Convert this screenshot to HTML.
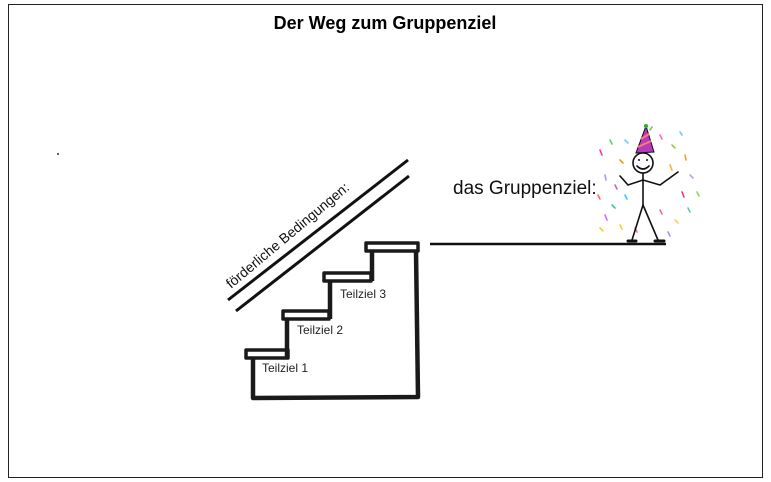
<!DOCTYPE html>
<html><head><meta charset="utf-8"><style>
html,body{margin:0;padding:0;background:#fff;}
svg{display:block;}
</style></head><body>
<svg width="771" height="482" viewBox="0 0 771 482" xmlns="http://www.w3.org/2000/svg" font-family="Liberation Sans, sans-serif">
<rect x="0" y="0" width="771" height="482" fill="#fff"/>
<rect x="8.5" y="4.5" width="754" height="473" fill="none" stroke="#222" stroke-width="1"/>
<text x="385" y="29" text-anchor="middle" font-size="18" font-weight="bold" fill="#000">Der Weg zum Gruppenziel</text>
<circle cx="58" cy="154" r="1" fill="#333"/>
<!-- diagonal lines -->
<line x1="228" y1="300" x2="408" y2="160" stroke="#111" stroke-width="3"/>
<line x1="236" y1="311" x2="409" y2="176" stroke="#111" stroke-width="3"/>
<text x="0" y="0" font-size="14" fill="#111" transform="translate(231,289) rotate(-40)">förderliche Bedingungen:</text>
<!-- stairs -->
<g fill="none" stroke="#1a1a1a" stroke-width="4.5" stroke-linejoin="round">
<polyline points="253,357 253,398 418,397 416,251"/>
<polyline points="287,357 287,319"/>
<polyline points="330,319 330,281"/>
<polyline points="372,281 372,251"/>
<rect x="246" y="350" width="42" height="8" stroke-width="3.5"/>
<rect x="283" y="311" width="46" height="8" stroke-width="3.5"/>
<rect x="324" y="273" width="47" height="8" stroke-width="3.5"/>
<rect x="366" y="243" width="52" height="8" stroke-width="3.5"/>
</g>
<text x="262" y="372" font-size="12" fill="#222">Teilziel 1</text>
<text x="297" y="334" font-size="12" fill="#222">Teilziel 2</text>
<text x="340" y="298" font-size="12" fill="#222">Teilziel 3</text>
<!-- horizontal line -->
<line x1="430" y1="244" x2="666" y2="244" stroke="#111" stroke-width="2.5"/>
<text x="453" y="194" font-size="19" fill="#111">das Gruppenziel:</text>
<!-- confetti -->
<g stroke-width="1.6" stroke-linecap="round">
<line x1="600" y1="150" x2="602" y2="155" stroke="#f39"/><line x1="610" y1="140" x2="612" y2="144" stroke="#6c6"/>
<line x1="620" y1="160" x2="623" y2="163" stroke="#f90"/><line x1="605" y1="175" x2="606" y2="180" stroke="#99f"/>
<line x1="598" y1="195" x2="600" y2="199" stroke="#f66"/><line x1="612" y1="205" x2="615" y2="208" stroke="#3c9"/>
<line x1="605" y1="215" x2="607" y2="220" stroke="#c6f"/><line x1="620" y1="225" x2="622" y2="229" stroke="#fc3"/>
<line x1="625" y1="140" x2="628" y2="143" stroke="#6cf"/><line x1="660" y1="135" x2="662" y2="139" stroke="#f6c"/>
<line x1="672" y1="145" x2="675" y2="148" stroke="#9c3"/><line x1="685" y1="155" x2="686" y2="160" stroke="#f93"/>
<line x1="690" y1="175" x2="693" y2="178" stroke="#c9f"/><line x1="682" y1="192" x2="684" y2="197" stroke="#f36"/>
<line x1="688" y1="208" x2="690" y2="212" stroke="#6c9"/><line x1="675" y1="220" x2="678" y2="223" stroke="#fc6"/>
<line x1="668" y1="232" x2="670" y2="236" stroke="#99f"/><line x1="660" y1="210" x2="662" y2="214" stroke="#f69"/>
<line x1="625" y1="195" x2="627" y2="199" stroke="#3cf"/><line x1="670" y1="165" x2="672" y2="170" stroke="#fa3"/>
<line x1="615" y1="185" x2="617" y2="189" stroke="#c6c"/><line x1="697" y1="192" x2="699" y2="196" stroke="#9c6"/>
<line x1="650" y1="130" x2="652" y2="127" stroke="#6c6"/><line x1="635" y1="228" x2="637" y2="232" stroke="#f6a"/>
<line x1="600" y1="228" x2="603" y2="231" stroke="#fc3"/><line x1="680" y1="132" x2="682" y2="135" stroke="#6cf"/>
</g>
<!-- stick figure -->
<g fill="none" stroke="#111" stroke-width="1.6" stroke-linecap="round">
<circle cx="643" cy="163" r="10" fill="#fff"/>
<path d="M637,166 Q643,172 649,166"/>
<line x1="643" y1="173" x2="643" y2="205"/>
<path d="M643,180 L628,185 L620,176"/>
<path d="M643,180 L660,185 L678,172"/>
<line x1="643" y1="205" x2="632" y2="240"/>
<line x1="643" y1="205" x2="658" y2="240"/>
<line x1="628" y1="241" x2="636" y2="241" stroke-width="3"/>
<line x1="655" y1="241" x2="664" y2="241" stroke-width="3"/>
</g>
<circle cx="639" cy="160" r="1" fill="#111"/><circle cx="647" cy="160" r="1" fill="#111"/>
<polygon points="636,153 654,152 646,126" fill="#b43bbd" stroke="#111" stroke-width="1"/>
<line x1="638" y1="147" x2="651" y2="141" stroke="#f77" stroke-width="2"/>
<line x1="641" y1="139" x2="649" y2="134" stroke="#f77" stroke-width="2"/>
<circle cx="646" cy="126" r="2" fill="#3a3"/>
</svg>
</body></html>
